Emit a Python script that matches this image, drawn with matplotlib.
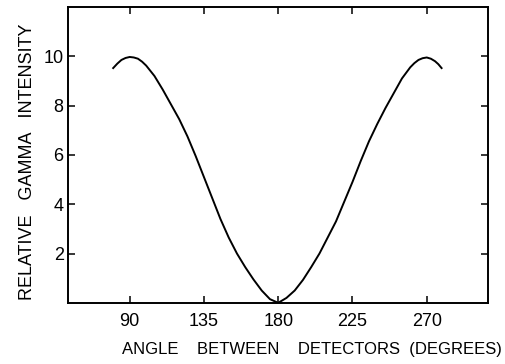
import matplotlib
matplotlib.use('Agg')
import matplotlib.pyplot as plt

# angle between the two detectors (degrees)
angles = [80, 82.5, 85, 87.5, 90, 92.5, 95, 97.5, 100, 105, 110, 115, 120, 125,
          130, 135, 140, 145, 150, 155, 160, 165, 170, 175, 180, 185, 190, 195,
          200, 205, 210, 215, 220, 225, 230, 235, 240, 245, 250, 255, 260, 262.5,
          265, 267.5, 270, 272.5, 275, 277, 279]
# relative gamma intensity at each angle
intensity = [9.52, 9.70, 9.85, 9.93, 9.97, 9.95, 9.90, 9.78, 9.62, 9.20, 8.65,
             8.05, 7.45, 6.75, 5.95, 5.10, 4.25, 3.40, 2.65, 2.00, 1.45, 0.95,
             0.50, 0.15, 0.00, 0.20, 0.50, 0.93, 1.45, 2.00, 2.65, 3.30, 4.10,
             4.90, 5.75, 6.55, 7.25, 7.90, 8.50, 9.10, 9.55, 9.72, 9.85, 9.92,
             9.95, 9.90, 9.80, 9.68, 9.52]

xTicks = [90, 135, 180, 225, 270]
yTicks = [2, 4, 6, 8, 10]

textFont = ['Liberation Sans', 'DejaVu Sans']


def drawCorrelationPlot(xValues, yValues, outputImageFileName):

	fig = plt.figure(figsize=(5.06, 3.64), dpi=100)
	ax = fig.add_axes([0.134, 0.168, 0.830, 0.813])

	ax.plot(xValues, yValues, color='black', linewidth=1.4)

	ax.set_xlim(52.5, 307)
	ax.set_ylim(0, 12)

	ax.set_xticks(xTicks)
	ax.set_yticks(yTicks)
	ax.set_xticklabels([str(t) for t in xTicks], fontsize=13, family=textFont)
	ax.set_yticklabels([str(t) for t in yTicks], fontsize=13, family=textFont)

	# ticks point inward on all four sides, like the old drawn chart
	ax.tick_params(direction='in', length=5, width=1.1, top=True, right=True)
	ax.tick_params(axis='x', pad=7)
	ax.tick_params(axis='y', pad=3)

	for spine in ax.spines.values():
		spine.set_linewidth(1.4)

	# the lettering is spaced out, so pad the words with extra blanks
	ax.set_xlabel('ANGLE    BETWEEN    DETECTORS  (DEGREES)', fontsize=12, family=textFont)
	ax.set_ylabel('RELATIVE   GAMMA   INTENSITY', fontsize=13, family=textFont)
	ax.xaxis.set_label_coords(0.581, -0.132)
	ax.yaxis.set_label_coords(-0.076, 0.476)

	plt.savefig(outputImageFileName, dpi=100)
	plt.close()


def main():
	drawCorrelationPlot(angles, intensity, "out.png")

main()
